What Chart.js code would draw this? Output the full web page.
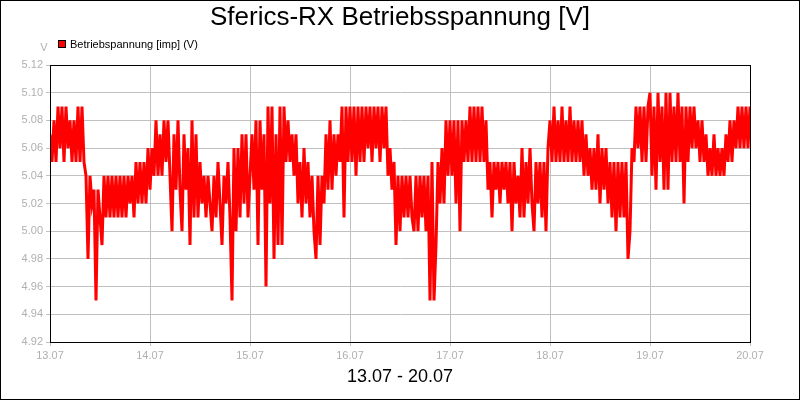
<!DOCTYPE html>
<html>
<head>
<meta charset="utf-8">
<title>Sferics-RX Betriebsspannung</title>
<script src="https://cdn.jsdelivr.net/npm/chart.js@4/dist/chart.umd.min.js"></script>
<style>
    html, body { margin: 0; padding: 0; background: #fff; }
    canvas { display: block; }
</style>
</head>
<body>
<canvas id="chart" width="800" height="400"></canvas>
<script>
// === Daten (Spannung in V, 50 Werte pro Tag) ===
const dayLabels = ['13.07', '14.07', '15.07', '16.07', '17.07', '18.07', '19.07', '20.07'];

const day13 = [5.07, 5.05, 5.08, 5.05, 5.09, 5.06, 5.09, 5.05, 5.09, 5.06, 5.08, 5.05, 5.08, 5.05, 5.09, 5.05, 5.09, 5.05, 5.04, 4.98,
    5.04, 5.02, 5.03, 4.95, 5.03, 5.01, 4.99, 5.04, 5.01, 5.04, 5.01, 5.04, 5.01, 5.04, 5.01, 5.04, 5.01, 5.04, 5.01, 5.04,
    5.02, 5.04, 5.01, 5.05, 5.02, 5.05, 5.02, 5.05, 5.02, 5.06];
const day14 = [5.03, 5.06, 5.04, 5.08, 5.04, 5.07, 5.04, 5.08, 5.05, 5.08, 5.04, 5.00, 5.07, 5.03, 5.08, 5.03, 5.00, 5.07, 5.03, 5.06,
    4.99, 5.08, 5.01, 5.07, 5.01, 5.05, 5.02, 5.04, 5.01, 5.04, 5.02, 5.00, 5.04, 5.01, 5.05, 5.02, 4.99, 5.04, 5.02, 5.05,
    5.01, 4.95, 5.06, 5.00, 5.06, 5.01, 5.07, 5.02, 5.07, 5.01];
const day15 = [5.04, 5.07, 5.03, 5.08, 4.99, 5.08, 5.03, 5.07, 4.96, 5.09, 5.02, 5.09, 4.98, 5.07, 4.99, 5.09, 4.99, 5.09, 5.05, 5.08,
    5.05, 5.07, 5.04, 5.07, 5.02, 5.05, 5.01, 5.06, 5.02, 5.05, 5.01, 5.04, 5.00, 4.98, 5.04, 4.99, 5.04, 5.02, 5.07, 5.03,
    5.08, 5.03, 5.07, 5.04, 5.07, 5.05, 5.09, 5.01, 5.09, 5.05];
const day16 = [5.09, 5.05, 5.09, 5.04, 5.09, 5.05, 5.09, 5.05, 5.09, 5.06, 5.09, 5.05, 5.09, 5.06, 5.09, 5.05, 5.09, 5.06, 5.09, 5.04,
    5.06, 5.03, 5.05, 4.99, 5.04, 5.00, 5.04, 5.01, 5.04, 5.01, 5.04, 5.01, 5.00, 5.04, 5.00, 5.04, 5.01, 5.04, 5.00, 5.04,
    4.95, 5.05, 4.95, 4.99, 5.05, 5.02, 5.06, 5.02, 5.08, 5.04];
const day17 = [5.08, 5.04, 5.08, 5.02, 5.08, 5.00, 5.08, 5.05, 5.08, 5.05, 5.09, 5.05, 5.09, 5.05, 5.09, 5.05, 5.09, 5.05, 5.08, 5.03,
    5.05, 5.01, 5.05, 5.03, 5.05, 5.02, 5.05, 5.03, 5.05, 5.02, 5.05, 5.00, 5.05, 5.02, 5.04, 5.01, 5.06, 5.01, 5.05, 5.02,
    5.06, 5.02, 5.00, 5.05, 5.02, 5.05, 5.01, 5.05, 5.00, 5.06];
const day18 = [5.08, 5.05, 5.09, 5.05, 5.08, 5.05, 5.09, 5.05, 5.08, 5.05, 5.09, 5.05, 5.08, 5.05, 5.08, 5.05, 5.08, 5.04, 5.07, 5.04,
    5.06, 5.03, 5.06, 5.03, 5.07, 5.02, 5.06, 5.03, 5.06, 5.02, 5.05, 5.01, 5.05, 5.00, 5.05, 5.01, 5.05, 5.01, 5.05, 4.98,
    5.00, 5.06, 5.05, 5.09, 5.06, 5.09, 5.05, 5.09, 5.05, 5.09];
const day19 = [5.10, 5.04, 5.09, 5.03, 5.10, 5.05, 5.09, 5.03, 5.10, 5.03, 5.10, 5.05, 5.09, 5.05, 5.10, 5.05, 5.09, 5.02, 5.09, 5.05,
    5.09, 5.06, 5.09, 5.06, 5.08, 5.05, 5.08, 5.05, 5.07, 5.04, 5.06, 5.04, 5.07, 5.04, 5.06, 5.04, 5.06, 5.04, 5.07, 5.05,
    5.08, 5.05, 5.08, 5.06, 5.09, 5.06, 5.09, 5.06, 5.09, 5.06, 5.09];

const days = [day13, day14, day15, day16, day17, day18, day19];

// x = Tag (0 = 13.07) + Anteil des Tages
const points = [];
days.forEach((values, d) => {
    values.forEach((v, i) => {
        points.push({ x: d + i / 50, y: v });
    });
});

const gridColor = '#c0c0c0';
const tickColor = '#b0b0b0';
const fontFamily = '"Liberation Sans", Arial, sans-serif';

// Titel, Legende, Rahmen
const framePlugin = {
    id: 'frame',
    beforeDraw(chart) {
        const ctx = chart.ctx;
        ctx.save();
        ctx.fillStyle = '#fff';
        ctx.fillRect(0, 0, chart.width, chart.height);
        ctx.restore();
    },
    afterDraw(chart) {
        const ctx = chart.ctx;
        const a = chart.chartArea;
        ctx.save();
        ctx.strokeStyle = '#000';
        ctx.lineWidth = 1;
        ctx.strokeRect(Math.round(a.left) + 0.5, Math.round(a.top) + 0.5,
            Math.round(a.right - a.left), Math.round(a.bottom - a.top));
        ctx.strokeRect(0.5, 0.5, chart.width - 1, chart.height - 1);

        // Titel
        ctx.fillStyle = '#000';
        ctx.textAlign = 'center';
        ctx.textBaseline = 'alphabetic';
        ctx.font = '26px ' + fontFamily;
        ctx.fillText('Sferics-RX Betriebsspannung [V]', 400, 25);

        // Legende
        ctx.fillStyle = '#ff0000';
        ctx.fillRect(58.5, 40.5, 7, 7);
        ctx.strokeStyle = '#000';
        ctx.strokeRect(58.5, 40.5, 7, 7);
        ctx.fillStyle = '#000';
        ctx.textAlign = 'left';
        ctx.font = '11px ' + fontFamily;
        ctx.fillText('Betriebspannung [imp] (V)', 70, 48);

        // Einheit
        ctx.fillStyle = tickColor;
        ctx.textAlign = 'center';
        ctx.fillText('V', 44, 51);
        ctx.restore();
    }
};

const ctx = document.getElementById('chart').getContext('2d');

new Chart(ctx, {
    type: 'line',
    data: {
        datasets: [{
            label: 'Betriebspannung [imp] (V)',
            data: points,
            borderColor: '#ff0000',
            backgroundColor: '#ff0000',
            borderWidth: 3,
            pointRadius: 0,
            tension: 0,
            fill: false,
        }]
    },
    options: {
        responsive: false,
        animation: false,
        devicePixelRatio: 1,
        layout: {
            padding: { top: 65, right: 50, left: 0, bottom: 0 },
        },
        plugins: {
            legend: { display: false },
            title: { display: false },
            tooltip: { enabled: false },
        },
        scales: {
            x: {
                type: 'linear',
                min: 0,
                max: 7,
                afterFit: (scale) => { scale.height = 58; },
                ticks: {
                    stepSize: 1,
                    color: tickColor,
                    font: { family: fontFamily, size: 11 },
                    maxRotation: 0,
                    padding: 3,
                    callback: (value) => dayLabels[value] ?? '',
                },
                grid: {
                    color: gridColor,
                    tickLength: 4,
                },
                border: { color: '#000' },
                title: {
                    display: true,
                    text: '13.07 - 20.07',
                    color: '#000',
                    font: { family: fontFamily, size: 18 },
                    padding: { top: 0, bottom: 12 },
                },
            },
            y: {
                min: 4.92,
                max: 5.12,
                afterFit: (scale) => { scale.width = 50; },
                ticks: {
                    stepSize: 0.02,
                    color: tickColor,
                    font: { family: fontFamily, size: 11 },
                    padding: 3,
                    callback: (value) => value.toFixed(2),
                },
                grid: {
                    color: gridColor,
                    tickLength: 4,
                },
                border: { color: '#000' },
            },
        },
    },
    plugins: [framePlugin],
});
</script>
</body>
</html>
